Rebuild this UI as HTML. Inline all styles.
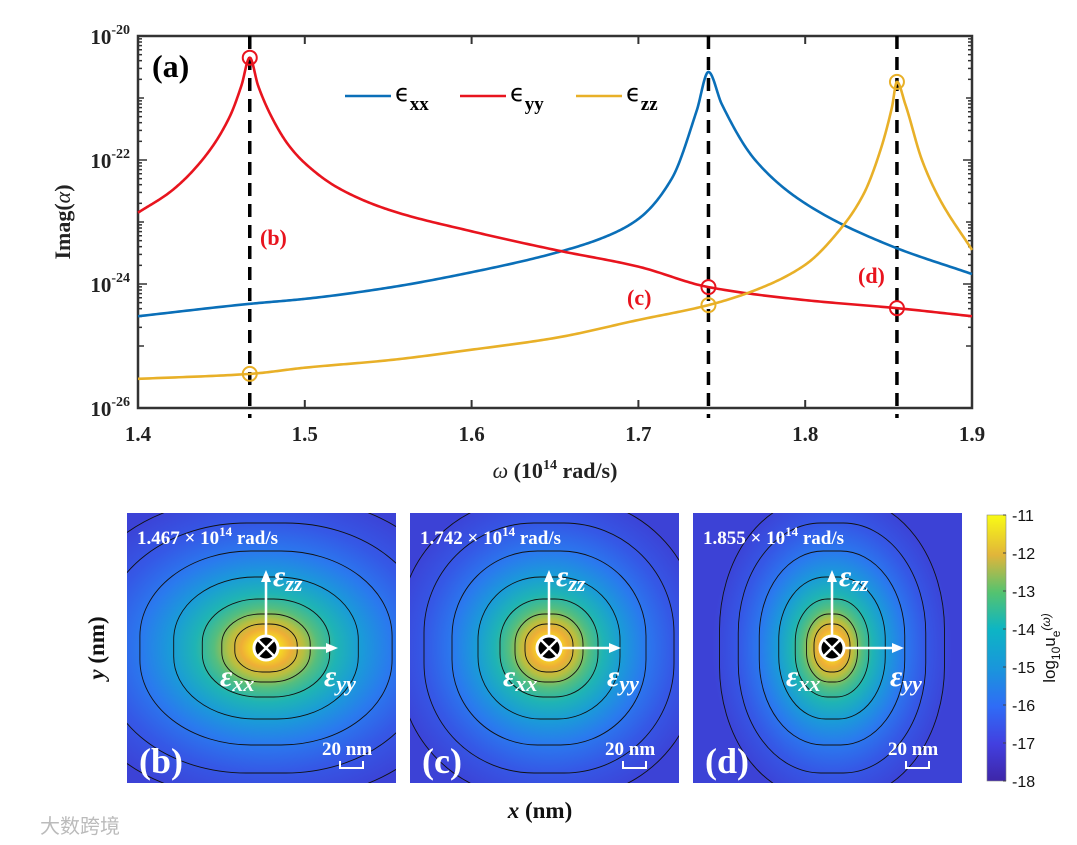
<!DOCTYPE html>
<html><head><meta charset="utf-8"><style>
body{margin:0;background:#fff;width:1077px;height:845px;overflow:hidden}
svg{display:block}
.t{font-family:"Liberation Serif",serif;font-weight:bold}
</style></head><body>
<svg id="chart" width="1077" height="845" viewBox="0 0 1077 845" xmlns="http://www.w3.org/2000/svg">
<defs>
<linearGradient id="cbar" x1="0" y1="1" x2="0" y2="0">
<stop offset="0" stop-color="#3e26a8"/><stop offset="0.14" stop-color="#4240e0"/><stop offset="0.28" stop-color="#2f6cf6"/><stop offset="0.42" stop-color="#1a95dc"/><stop offset="0.57" stop-color="#0db5c4"/><stop offset="0.71" stop-color="#55c36f"/><stop offset="0.85" stop-color="#e1b53a"/><stop offset="1" stop-color="#f9fb15"/>
</linearGradient>
</defs>
<g id="topPlot"></g>
<g id="maps"></g>
</svg>
<script>
// ----- chart data -----
const xTicks=[1.4,1.5,1.6,1.7,1.8,1.9];
const yTickExps=[-20,-22,-24,-26];
const resonances=[1.467,1.742,1.855];
const exxX=[1.40,1.467,1.50,1.55,1.60,1.65,1.68,1.70,1.72,1.735,1.742,1.75,1.77,1.80,1.85,1.90];
const exxLog=[-24.52,-24.32,-24.24,-24.06,-23.81,-23.50,-23.24,-22.95,-22.30,-21.20,-20.58,-21.10,-22.0,-22.70,-23.37,-23.84];
const eyyX=[1.40,1.42,1.44,1.455,1.462,1.467,1.472,1.48,1.49,1.50,1.52,1.55,1.60,1.65,1.70,1.742,1.80,1.855,1.90];
const eyyLog=[-22.85,-22.50,-21.95,-21.30,-20.80,-20.35,-20.80,-21.30,-21.75,-22.05,-22.45,-22.80,-23.15,-23.45,-23.72,-24.05,-24.26,-24.39,-24.52];
const ezzX=[1.40,1.467,1.50,1.55,1.60,1.65,1.70,1.742,1.77,1.80,1.82,1.835,1.845,1.852,1.855,1.86,1.87,1.88,1.90];
const ezzLog=[-25.53,-25.45,-25.35,-25.23,-25.06,-24.87,-24.58,-24.34,-24.10,-23.69,-23.15,-22.55,-21.85,-21.15,-20.74,-21.10,-22.0,-22.60,-23.45];
const mapFreqs=["1.467","1.742","1.855"];
const mapLabels=["(b)","(c)","(d)"];
const cbTicks=[-11,-12,-13,-14,-15,-16,-17,-18];

const NS="http://www.w3.org/2000/svg";
const X0=138,X1=972,Y0=36,Y1=408;
const sx=v=>X0+(v-1.4)/0.5*(X1-X0);
const sy=l=>Y0+(-20-l)/6*(Y1-Y0);
function mk(tag,at,parent,txt){const e=document.createElementNS(NS,tag);for(const k in at)e.setAttribute(k,at[k]);if(txt!==undefined)e.textContent=txt;parent.appendChild(e);return e;}
const topG=document.getElementById('topPlot');
// monotone cubic interpolation
function monoPath(X,Y){const n=X.length,h=[],d=[],m=new Array(n);
 for(let i=0;i<n-1;i++){h[i]=X[i+1]-X[i];d[i]=(Y[i+1]-Y[i])/h[i];}
 m[0]=d[0];m[n-1]=d[n-2];
 for(let i=1;i<n-1;i++){if(d[i-1]*d[i]<=0)m[i]=0;else{const w1=2*h[i]+h[i-1],w2=h[i]+2*h[i-1];m[i]=(w1+w2)/(w1/d[i-1]+w2/d[i]);}}
 let s='';
 for(let i=0;i<n-1;i++){const N=30;for(let k=(i==0?0:1);k<=N;k++){const t=k/N,hh=h[i];const t2=t*t,t3=t2*t;
  const y=(2*t3-3*t2+1)*Y[i]+(t3-2*t2+t)*hh*m[i]+(-2*t3+3*t2)*Y[i+1]+(t3-t2)*hh*m[i+1];
  const x=X[i]+t*hh;s+=(s?'L':'M')+sx(x).toFixed(2)+','+sy(y).toFixed(2);}}
 return s;}
// frame
let f=mk('rect',{x:X0,y:Y0,width:X1-X0,height:Y1-Y0,fill:'none',stroke:'#333','stroke-width':2.5},topG);


xTicks.forEach(v=>{const x=sx(v);mk('line',{x1:x,y1:Y1,x2:x,y2:Y1-8,stroke:'#333','stroke-width':2},topG);mk('line',{x1:x,y1:Y0,x2:x,y2:Y0+8,stroke:'#333','stroke-width':2},topG);
 const t=mk('text',{x:x,y:Y1+33,'text-anchor':'middle','font-size':21,class:'t',fill:'#222'},topG,v.toFixed(1));
 
 });
for(let e=-20;e>=-26;e--){for(let m=1;m<10;m++){const l=e+Math.log10(m);if(l>-20)continue;if(e==-26&&m>1)continue;const y=sy(l);const len=m==1?(e%2==0?9:6):4;mk('line',{x1:X0,y1:y,x2:X0+len,y2:y,stroke:'#333','stroke-width':1.5},topG);mk('line',{x1:X1,y1:y,x2:X1-len,y2:y,stroke:'#333','stroke-width':1.5},topG);}}
yTickExps.forEach(e=>{const t=mk('text',{x:X0-8,y:sy(e)+8,'text-anchor':'end','font-size':21,class:'t',fill:'#222'},topG);
 
 
 mk('tspan',{},t,'10');mk('tspan',{dy:-10,'font-size':14},t,String(e));});
resonances.forEach(v=>{const l=mk('line',{x1:sx(v),y1:Y0,x2:sx(v),y2:Y1+10,stroke:'#000','stroke-width':3.5,'stroke-dasharray':'13,8'},topG);
 
 });
const series=[[exxX,exxLog,'#0a6fb8','exx-curve'],[eyyX,eyyLog,'#e8141e','eyy-curve'],[ezzX,ezzLog,'#e8b028','ezz-curve']];
series.forEach(s=>{const p=mk('path',{d:monoPath(s[0],s[1]),fill:'none',stroke:s[2],'stroke-width':2.6,'stroke-linejoin':'round'},topG);
 
 });
function valAt(X,L,v){for(let i=0;i<X.length;i++)if(Math.abs(X[i]-v)<1e-6)return L[i];return L[0];}
resonances.forEach(v=>{let c=mk('circle',{cx:sx(v),cy:sy(valAt(eyyX,eyyLog,v)),r:7,fill:'none',stroke:'#e8141e','stroke-width':2},topG);
 
 
 c=mk('circle',{cx:sx(v),cy:sy(valAt(ezzX,ezzLog,v)),r:7,fill:'none',stroke:'#e8b028','stroke-width':2},topG);
 
 });
[['(a)',152,77,'#000',32,'panel-a-label'],['(b)',260,245,'#e8141e',22,'annotation-b'],['(c)',627,305,'#e8141e',22,'annotation-c'],['(d)',858,283,'#e8141e',22,'annotation-d']].forEach(a=>{const t=mk('text',{x:a[1],y:a[2],fill:a[3],'font-size':a[4],class:'t'},topG,a[0]);
 
 });
[['#0a6fb8',345,'xx'],['#e8141e',460,'yy'],['#e8b028',576,'zz']].forEach(g=>{const gg=mk('g',{},topG);
 
 
 mk('line',{x1:g[1],y1:96,x2:g[1]+46,y2:96,stroke:g[0],'stroke-width':2.6},gg);const t=mk('text',{x:g[1]+50,y:101,'font-size':24,fill:'#000','font-family':'DejaVu Sans, sans-serif'},gg,'ϵ');mk('tspan',{dy:9,'font-size':19,'font-weight':'bold','font-family':'Liberation Serif, serif'},t,g[2]);});
let xt=mk('text',{x:555,y:478,'text-anchor':'middle','font-size':22,class:'t',fill:'#222'},topG);


mk('tspan',{'font-style':'italic','font-weight':'normal'},xt,'ω ');mk('tspan',{},xt,'(10');mk('tspan',{dy:-9,'font-size':14},xt,'14');mk('tspan',{dy:9},xt,' rad/s)');
let yt=mk('text',{x:0,y:0,'text-anchor':'middle','font-size':22,class:'t',fill:'#222',transform:'translate(70,222) rotate(-90)'},topG);


mk('tspan',{},yt,'Imag(');mk('tspan',{'font-style':'italic','font-weight':'normal'},yt,'α');mk('tspan',{},yt,')');

// ----- maps -----
const maps=document.getElementById('maps');
const defs=document.querySelector('defs');
const panelX=[127,410,693],PY=513,PW=269,PH=270;
const ratios=[1.3,1.0,0.75];
const ryLevels=[150,125,97,71,49,34,24];
const stops=[[0,'#f9fb0e'],[0.06,'#f7e020'],[0.12,'#eeae36'],[0.18,'#b7bf40'],[0.25,'#55be7e'],[0.34,'#1fb4b4'],[0.46,'#1a9bd8'],[0.6,'#2a7aee'],[0.78,'#3558e6'],[1,'#3c42d6']];
panelX.forEach((px,i)=>{
 const g=mk('g',{},maps);
 
 
 const cx=px+139,cy=PY+135,r=ratios[i];
 const gr=mk('radialGradient',{id:'rg'+i,gradientUnits:'userSpaceOnUse',cx:0,cy:0,r:160,gradientTransform:`translate(${cx},${cy}) scale(${r},1)`},defs);
 stops.forEach(s=>mk('stop',{offset:s[0],'stop-color':s[1]},gr));
 const cp=mk('clipPath',{id:'cp'+i},defs);
 mk('rect',{x:px,y:PY,width:PW,height:PH},cp);
 mk('rect',{x:px,y:PY,width:PW,height:PH,fill:'#3c42d6'},g);
 const cg=mk('g',{'clip-path':`url(#cp${i})`},g);
 mk('rect',{x:px,y:PY,width:PW,height:PH,fill:`url(#rg${i})`},cg);
 ryLevels.forEach(ry=>{const rx=ry*r;const c=mk('rect',{x:cx-rx,y:cy-ry,width:2*rx,height:2*ry,rx:rx*0.88,ry:ry*0.88,fill:'none',stroke:'#111','stroke-width':0.9},cg);
  
  });
 mk('line',{x1:cx,y1:cy,x2:cx,y2:cy-68,stroke:'#fff','stroke-width':2.5},g);mk('path',{d:`M${cx-5},${cy-66} L${cx},${cy-78} L${cx+5},${cy-66}Z`,fill:'#fff'},g);
 mk('line',{x1:cx,y1:cy,x2:cx+62,y2:cy,stroke:'#fff','stroke-width':2.5},g);mk('path',{d:`M${cx+60},${cy-5} L${cx+72},${cy} L${cx+60},${cy+5}Z`,fill:'#fff'},g);
 mk('circle',{cx:cx,cy:cy,r:12,fill:'#000',stroke:'#fff','stroke-width':3},g);
 mk('path',{d:`M${cx-8},${cy-8}L${cx+8},${cy+8}M${cx+8},${cy-8}L${cx-8},${cy+8}`,stroke:'#fff','stroke-width':2.5},g);
 const lab=(x,y,sub,name)=>{const t=mk('text',{x:x,y:y,fill:'#fff','font-size':30,'font-style':'italic','font-weight':'bold','font-family':'Liberation Serif, serif'},g,'ε');mk('tspan',{dy:5,'font-size':22},t,sub);
  
  };
 lab(cx+7,cy-62,'zz','ezz-label');lab(cx+58,cy+38,'yy','eyy-label');lab(cx-46,cy+38,'xx','exx-label');
 const ft=mk('text',{x:px+10,y:PY+31,fill:'#fff','font-size':19,class:'t'},g);
 
 
 mk('tspan',{},ft,mapFreqs[i]+' × 10');mk('tspan',{dy:-8,'font-size':13},ft,'14');mk('tspan',{dy:8},ft,' rad/s');
 const pl=mk('text',{x:px+12,y:PY+260,fill:'#fff','font-size':36,class:'t'},g,mapLabels[i]);
 
 
 const sb=mk('text',{x:px+195,y:PY+242,fill:'#fff','font-size':19,class:'t'},g,'20 nm');
 
 
 mk('path',{d:`M${px+213},${PY+248}V${PY+255}H${px+236}V${PY+248}`,fill:'none',stroke:'#fff','stroke-width':2},g);
});
let cb=mk('rect',{x:987,y:515,width:19,height:266,fill:'url(#cbar)',stroke:'#888','stroke-width':0.6},maps);


cbTicks.forEach(v=>{const y=515+(-11-v)/7*266;mk('line',{x1:1003,y1:y,x2:1006,y2:y,stroke:'#444'},maps);const t=mk('text',{x:1012,y:y+6,'font-size':16,'font-family':'Liberation Sans, sans-serif',fill:'#111'},maps,String(v));
 
 });
let cl=mk('text',{x:0,y:0,'text-anchor':'middle','font-size':17,'font-family':'Liberation Sans, sans-serif',fill:'#111',transform:'translate(1055,648) rotate(-90)'},maps);


mk('tspan',{},cl,'log');mk('tspan',{dy:5,'font-size':12},cl,'10');mk('tspan',{dy:-5},cl,'u');mk('tspan',{dy:5,'font-size':12},cl,'e');mk('tspan',{dy:-10,'font-size':12,'font-style':'italic'},cl,'(ω)');
let my=mk('text',{x:0,y:0,'text-anchor':'middle','font-size':23,class:'t',fill:'#111',transform:'translate(104,648) rotate(-90)'},maps);


mk('tspan',{'font-style':'italic'},my,'y');mk('tspan',{},my,' (nm)');
let mx=mk('text',{x:540,y:818,'text-anchor':'middle','font-size':23,class:'t',fill:'#111'},maps);


mk('tspan',{'font-style':'italic'},mx,'x');mk('tspan',{},mx,' (nm)');
let wm=mk('text',{x:40,y:833,'font-size':20,fill:'#bbb','font-family':'Liberation Sans, Noto Sans CJK SC, sans-serif'},maps,'大数跨境');


</script>
</body></html>
